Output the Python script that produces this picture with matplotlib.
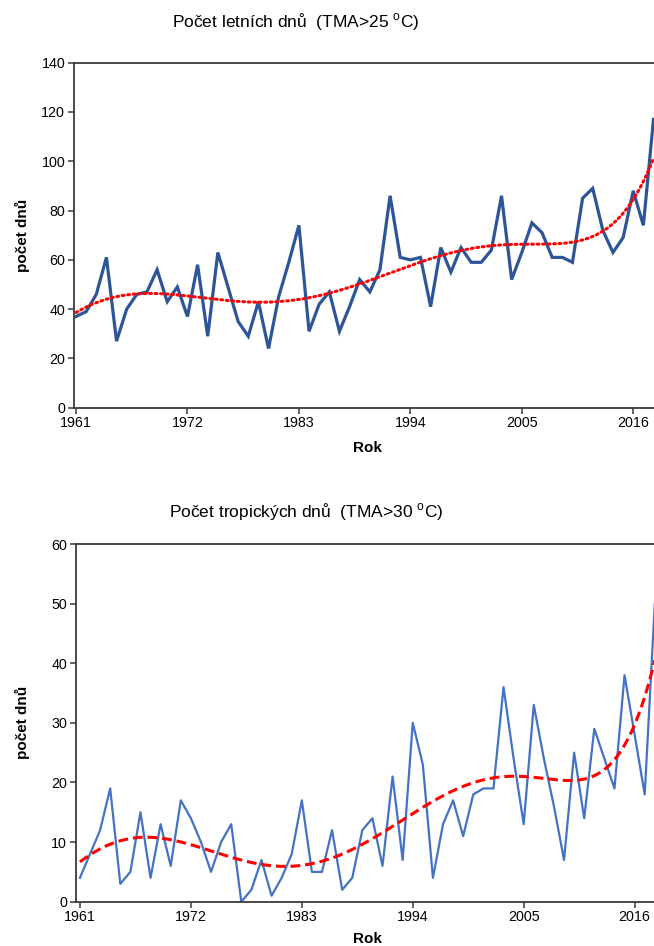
import numpy as np
import matplotlib
matplotlib.use("Agg")
import matplotlib.pyplot as plt

plt.rcParams["font.family"] = ["Liberation Sans", "DejaVu Sans"]
plt.rcParams["mathtext.fontset"] = "custom"
plt.rcParams["mathtext.rm"] = "Liberation Sans"

years = list(range(1961, 2019))

# pocet letnich dnu (TMA > 25 C)
letni = [37, 39, 46, 61, 27, 40, 46, 47, 56, 43,
         49, 37, 58, 29, 63, 49, 35, 29, 43, 24,
         45, 59, 74, 31, 42, 47, 31, 41, 52, 47,
         56, 86, 61, 60, 61, 41, 65, 55, 65, 59,
         59, 64, 86, 52, 63, 75, 71, 61, 61, 59,
         85, 89, 72, 63, 69, 88, 74, 117]

# pocet tropickych dnu (TMA > 30 C)
tropicke = [4, 8, 12, 19, 3, 5, 15, 4, 13, 6,
            17, 14, 10, 5, 10, 13, 0, 2, 7, 1,
            4, 8, 17, 5, 5, 12, 2, 4, 12, 14,
            6, 21, 7, 30, 23, 4, 13, 17, 11, 18,
            19, 19, 36, 24, 13, 33, 24, 16, 7, 25,
            14, 29, 24, 19, 38, 28, 18, 50]

xticks = [1961, 1972, 1983, 1994, 2005, 2016]


def trend(x, y, deg=6):
    # polynomialni trend 6. radu
    x = np.asarray(x, dtype=float)
    t = (x - x.mean()) / 30.0
    p = np.polyfit(t, y, deg)
    xs = np.linspace(x.min(), x.max(), 400)
    return xs, np.polyval(p, (xs - x.mean()) / 30.0)


def styl(ax, xlim, ylim, step):
    ax.set_xlim(*xlim)
    ax.set_ylim(*ylim)
    ax.set_xticks(xticks)
    ax.set_yticks(np.arange(ylim[0], ylim[1] + 1, step))
    for s in ["left", "bottom", "top"]:
        ax.spines[s].set_color("#3a3a3a")
        ax.spines[s].set_linewidth(1.3)
    ax.spines["right"].set_visible(False)
    ax.tick_params(direction="out", length=4, width=1.1, color="#3a3a3a",
                   labelsize=10.3, pad=2)
    ax.set_xlabel("Rok", fontsize=11, fontweight="bold")
    ax.set_ylabel("počet dnů", fontsize=11, fontweight="bold")


fig = plt.figure(figsize=(6.54, 9.46), dpi=100)

ax1 = fig.add_axes([73.5 / 654, 1 - 407.7 / 946, (654 - 73.5) / 654, 345 / 946])
ax1.plot(years, letni, color="#2E5597", lw=2.3, solid_joinstyle="miter")
tx, ty = trend(years, letni)
ax1.plot(tx, ty, color="#FF0000", lw=2.2, linestyle=(0, (0.6, 1.2)),
         dash_capstyle="round")
styl(ax1, (1960.75, 2018.05), (0, 140), 20)
ax1.xaxis.set_label_coords((367 - 73.5) / (654 - 73.5), -(441 - 407.7) / 345)
ax1.yaxis.set_label_coords(-(73.5 - 30) / (654 - 73.5), 0.5)

ax2 = fig.add_axes([75.5 / 654, 1 - 901.7 / 946, (654 - 75.5) / 654, 357.7 / 946])
ax2.plot(years, tropicke, color="#4472C4", lw=1.6)
tx, ty = trend(years, tropicke)
ax2.plot(tx, ty, color="#FF0000", lw=2.2, linestyle=(0, (3.2, 1.6)))
styl(ax2, (1960.56, 2017.92), (0, 60), 10)
ax2.xaxis.set_label_coords((367 - 75.5) / (654 - 75.5), -(932 - 901.7) / 357.7)
ax2.yaxis.set_label_coords(-(75.5 - 30) / (654 - 75.5), 0.5)

fig.text(296 / 654, 1 - 22 / 946, "Počet letních dnů  (TMA>25 $^{\\mathregular{o}}$C)",
         fontsize=12.5, ha="center", va="center")
fig.text(306 / 654, 1 - 512 / 946, "Počet tropických dnů  (TMA>30 $^{\\mathregular{o}}$C)",
         fontsize=12.5, ha="center", va="center")

fig.savefig("out.png", dpi=100)
